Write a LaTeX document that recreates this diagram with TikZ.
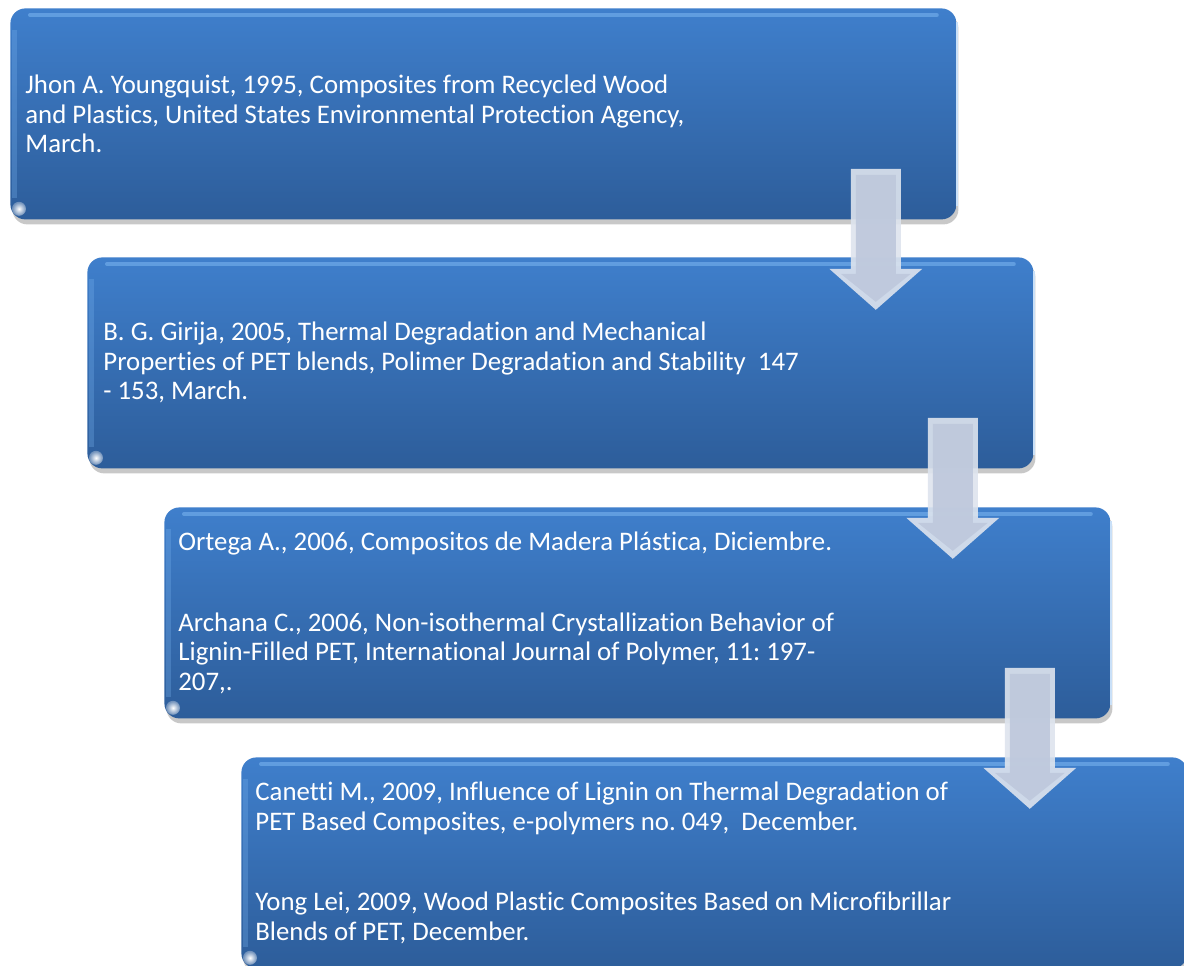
\documentclass[tikz,border=0pt]{standalone}
\usepackage{fontspec}
\setmainfont[Ligatures=NoCommon]{Carlito}
\usetikzlibrary{positioning,calc,shadows}

\definecolor{boxtop}{RGB}{63,127,204}
\definecolor{boxbottom}{RGB}{45,93,154}
\definecolor{boxedge}{RGB}{120,178,238}
\definecolor{arrowrim}{RGB}{222,228,238}
\definecolor{arrowfill}{RGB}{190,200,220}

\begin{document}
\frenchspacing
\begin{tikzpicture}[x=0.5pt,y=-0.5pt]
% Estilos
\tikzset{
  refbox/.style={rectangle, rounded corners=7.5pt, minimum width=473pt, minimum height=105.5pt, inner sep=0pt, anchor=north west, top color=boxtop, bottom color=boxbottom, drop shadow={shadow xshift=1pt, shadow yshift=-2.5pt, opacity=0.3, fill=black!70}},
  reftext/.style={anchor=west, inner sep=0pt, align=left, text=white, font=\fontsize{13.4}{14.75}\selectfont},
  bendarrow/.pic={
    \fill[arrowrim, opacity=0.9] (-25,0) -- (25,0) -- (25,100) -- (46.5,100) -- (0,141) -- (-46.5,100) -- (-25,100) -- cycle;
    \fill[arrowfill, opacity=0.9] (-20,6) -- (20,6) -- (20,105) -- (35,105) -- (0,133) -- (-35,105) -- (-20,105) -- cycle;
  }
}
\useasboundingbox (0,0) rectangle (1184,965);
\clip (0,0) rectangle (1184,965);
\fill[white] (0,0) rectangle (1184,965);

% Cajas
\node[refbox] (ref1) at (10,8) {};
\node[refbox] (ref2) at (87,257) {};
\node[refbox] (ref3) at (164,507) {};
\node[refbox] (ref4) at (241,757) {};

% Brillos
\foreach \n in {1,...,4} {
  \draw[boxedge, line width=2pt, opacity=0.6, line cap=round] ($(ref\n.north west)+(20,7)$) -- ($(ref\n.north east)+(-20,7)$);
  \draw[boxedge, line width=2.5pt, opacity=0.3] ($(ref\n.north west)+(4,22)$) -- ($(ref\n.south west)+(4,-22)$);
  \draw[boxedge!40!white, line width=0.8pt] ($(ref\n.north east)+(0,14)$) -- ($(ref\n.south east)+(0,-14)$);
  \shade[inner color=white, outer color=boxbottom!70!white] ($(ref\n.south west)+(9,-11)$) circle (3.5pt);
}

% Textos
\node[reftext, right=7.5pt of ref1.west] (txt1) {Jhon A. Youngquist, 1995, Composites from Recycled Wood\\and Plastics, United States Environmental Protection Agency,\\March.};
\node[reftext, right=8pt of ref2.west] (txt2) {B. G. Girija, 2005, Thermal Degradation and Mechanical\\Properties of PET blends, Polimer Degradation and Stability\ \ 147\\- 153, March.};
\node[reftext, right=7pt of ref3.west] (txt3) {Ortega A., 2006, Compositos de Madera Plástica, Diciembre.\\[25.5pt]Archana C., 2006, Non-isothermal Crystallization Behavior of\\Lignin-Filled PET, International Journal of Polymer, 11: 197-\\207,.};
\node[reftext, right=7pt of ref4.west] (txt4) {Canetti M., 2009, Influence of Lignin on Thermal Degradation of\\PET Based Composites, e-polymers no. 049,\ \ December.\\[25.5pt]Yong Lei, 2009, Wood Plastic Composites Based on Microfibrillar\\Blends of PET, December.};

% Flechas
\pic at ($(ref1.south east)+(-81,-51)$) {bendarrow};
\pic at ($(ref2.south east)+(-81,-51)$) {bendarrow};
\pic at ($(ref3.south east)+(-81,-51)$) {bendarrow};

\end{tikzpicture}
\end{document}
